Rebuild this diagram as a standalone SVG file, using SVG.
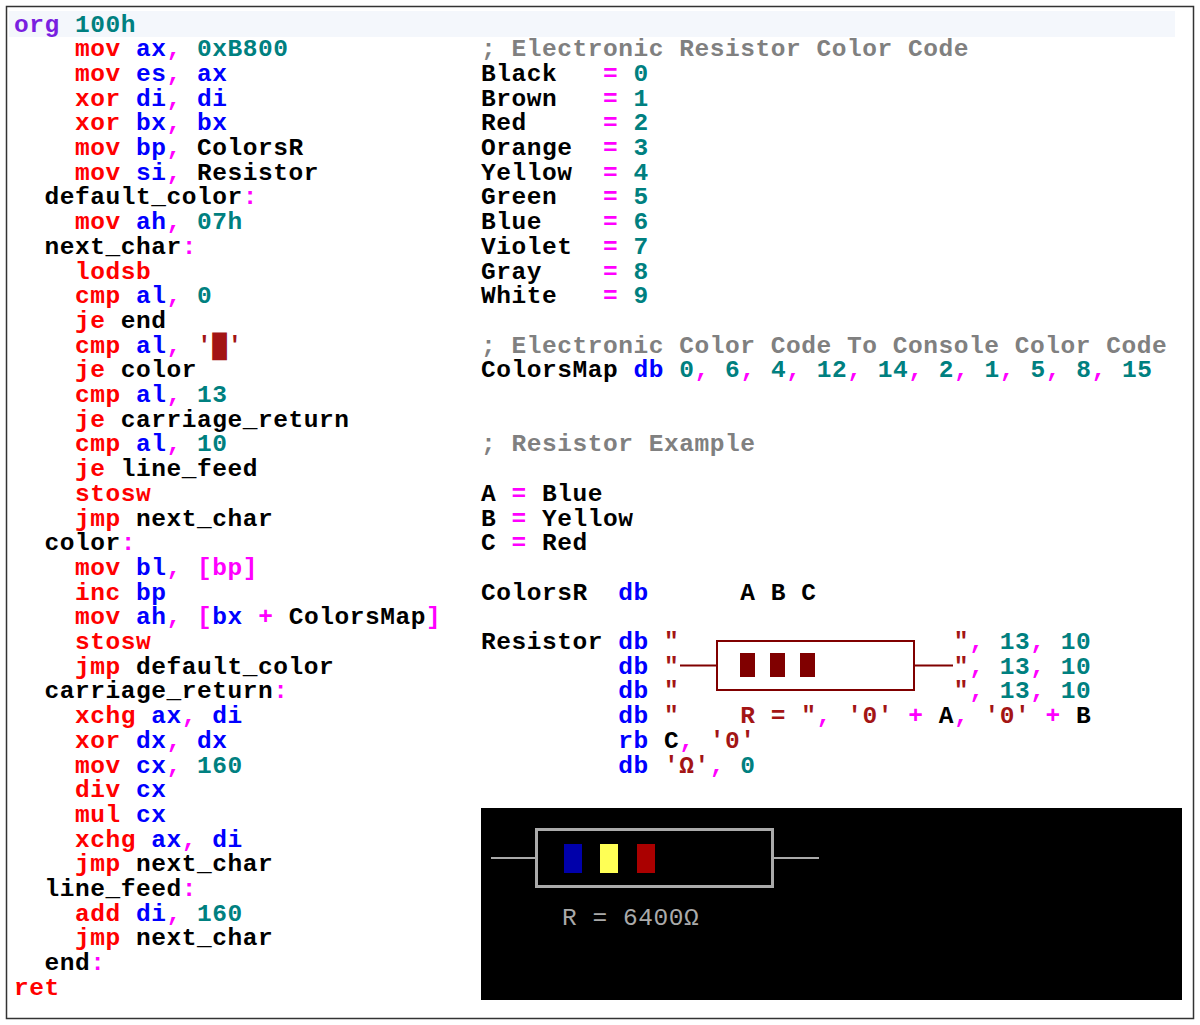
<svg xmlns="http://www.w3.org/2000/svg" width="1200" height="1025" viewBox="0 0 1200 1025">
<style>
text{font-family:"Liberation Mono","Courier New",monospace;font-size:24.5px;letter-spacing:0.55px;font-weight:bold;fill:#000;white-space:pre}
.k{fill:#ff0000}.r{fill:#0000ff}.n{fill:#008080}.p{fill:#ff00ff}.s{fill:#a31515}.c{fill:#808080}.o{fill:#7a1fe0}
.scr{font-weight:normal;fill:#aaaaaa}
</style>
<rect x="0" y="0" width="1200" height="1025" fill="#fff"/>
<rect x="6.5" y="6.5" width="1187" height="1012" fill="none" stroke="#333" stroke-width="1.5"/>
<rect x="9" y="11" width="1166" height="26" fill="#f4f7fc"/>
<g id="left" xml:space="preserve" transform="translate(0,-1.5)">
<text x="14" y="33"><tspan class="o">org</tspan> <tspan class="n">100h</tspan></text>
<text x="14" y="57.7">    <tspan class="k">mov</tspan> <tspan class="r">ax</tspan><tspan class="p">,</tspan> <tspan class="n">0xB800</tspan></text>
<text x="14" y="82.4">    <tspan class="k">mov</tspan> <tspan class="r">es</tspan><tspan class="p">,</tspan> <tspan class="r">ax</tspan></text>
<text x="14" y="107.1">    <tspan class="k">xor</tspan> <tspan class="r">di</tspan><tspan class="p">,</tspan> <tspan class="r">di</tspan></text>
<text x="14" y="131.8">    <tspan class="k">xor</tspan> <tspan class="r">bx</tspan><tspan class="p">,</tspan> <tspan class="r">bx</tspan></text>
<text x="14" y="156.5">    <tspan class="k">mov</tspan> <tspan class="r">bp</tspan><tspan class="p">,</tspan> ColorsR</text>
<text x="14" y="181.2">    <tspan class="k">mov</tspan> <tspan class="r">si</tspan><tspan class="p">,</tspan> Resistor</text>
<text x="14" y="205.9">  default_color<tspan class="p">:</tspan></text>
<text x="14" y="230.6">    <tspan class="k">mov</tspan> <tspan class="r">ah</tspan><tspan class="p">,</tspan> <tspan class="n">07h</tspan></text>
<text x="14" y="255.3">  next_char<tspan class="p">:</tspan></text>
<text x="14" y="280">    <tspan class="k">lodsb</tspan></text>
<text x="14" y="304.7">    <tspan class="k">cmp</tspan> <tspan class="r">al</tspan><tspan class="p">,</tspan> <tspan class="n">0</tspan></text>
<text x="14" y="329.4">    <tspan class="k">je</tspan> end</text>
<text x="14" y="354.1">    <tspan class="k">cmp</tspan> <tspan class="r">al</tspan><tspan class="p">,</tspan> <tspan class="s">'█'</tspan></text>
<text x="14" y="378.8">    <tspan class="k">je</tspan> color</text>
<text x="14" y="403.5">    <tspan class="k">cmp</tspan> <tspan class="r">al</tspan><tspan class="p">,</tspan> <tspan class="n">13</tspan></text>
<text x="14" y="428.2">    <tspan class="k">je</tspan> carriage_return</text>
<text x="14" y="452.9">    <tspan class="k">cmp</tspan> <tspan class="r">al</tspan><tspan class="p">,</tspan> <tspan class="n">10</tspan></text>
<text x="14" y="477.6">    <tspan class="k">je</tspan> line_feed</text>
<text x="14" y="502.3">    <tspan class="k">stosw</tspan></text>
<text x="14" y="527">    <tspan class="k">jmp</tspan> next_char</text>
<text x="14" y="551.7">  color<tspan class="p">:</tspan></text>
<text x="14" y="576.4">    <tspan class="k">mov</tspan> <tspan class="r">bl</tspan><tspan class="p">,</tspan> <tspan class="p">[bp]</tspan></text>
<text x="14" y="601.1">    <tspan class="k">inc</tspan> <tspan class="r">bp</tspan></text>
<text x="14" y="625.8">    <tspan class="k">mov</tspan> <tspan class="r">ah</tspan><tspan class="p">,</tspan> <tspan class="p">[</tspan><tspan class="r">bx</tspan> <tspan class="p">+</tspan> ColorsMap<tspan class="p">]</tspan></text>
<text x="14" y="650.5">    <tspan class="k">stosw</tspan></text>
<text x="14" y="675.2">    <tspan class="k">jmp</tspan> default_color</text>
<text x="14" y="699.9">  carriage_return<tspan class="p">:</tspan></text>
<text x="14" y="724.6">    <tspan class="k">xchg</tspan> <tspan class="r">ax</tspan><tspan class="p">,</tspan> <tspan class="r">di</tspan></text>
<text x="14" y="749.3">    <tspan class="k">xor</tspan> <tspan class="r">dx</tspan><tspan class="p">,</tspan> <tspan class="r">dx</tspan></text>
<text x="14" y="774">    <tspan class="k">mov</tspan> <tspan class="r">cx</tspan><tspan class="p">,</tspan> <tspan class="n">160</tspan></text>
<text x="14" y="798.7">    <tspan class="k">div</tspan> <tspan class="r">cx</tspan></text>
<text x="14" y="823.4">    <tspan class="k">mul</tspan> <tspan class="r">cx</tspan></text>
<text x="14" y="848.1">    <tspan class="k">xchg</tspan> <tspan class="r">ax</tspan><tspan class="p">,</tspan> <tspan class="r">di</tspan></text>
<text x="14" y="872.8">    <tspan class="k">jmp</tspan> next_char</text>
<text x="14" y="897.5">  line_feed<tspan class="p">:</tspan></text>
<text x="14" y="922.2">    <tspan class="k">add</tspan> <tspan class="r">di</tspan><tspan class="p">,</tspan> <tspan class="n">160</tspan></text>
<text x="14" y="946.9">    <tspan class="k">jmp</tspan> next_char</text>
<text x="14" y="971.6">  end<tspan class="p">:</tspan></text>
<text x="14" y="996.3"><tspan class="k">ret</tspan></text>
</g>
<g id="right" xml:space="preserve" transform="translate(0,-1.5)">
<text x="481" y="57.7" class="c">; Electronic Resistor Color Code</text>
<text x="481" y="82.4">Black   <tspan class="p">=</tspan> <tspan class="n">0</tspan></text>
<text x="481" y="107.1">Brown   <tspan class="p">=</tspan> <tspan class="n">1</tspan></text>
<text x="481" y="131.8">Red     <tspan class="p">=</tspan> <tspan class="n">2</tspan></text>
<text x="481" y="156.5">Orange  <tspan class="p">=</tspan> <tspan class="n">3</tspan></text>
<text x="481" y="181.2">Yellow  <tspan class="p">=</tspan> <tspan class="n">4</tspan></text>
<text x="481" y="205.9">Green   <tspan class="p">=</tspan> <tspan class="n">5</tspan></text>
<text x="481" y="230.6">Blue    <tspan class="p">=</tspan> <tspan class="n">6</tspan></text>
<text x="481" y="255.3">Violet  <tspan class="p">=</tspan> <tspan class="n">7</tspan></text>
<text x="481" y="280">Gray    <tspan class="p">=</tspan> <tspan class="n">8</tspan></text>
<text x="481" y="304.7">White   <tspan class="p">=</tspan> <tspan class="n">9</tspan></text>
<text x="481" y="354.1" class="c">; Electronic Color Code To Console Color Code</text>
<text x="481" y="378.8">ColorsMap <tspan class="r">db</tspan> <tspan class="n">0</tspan><tspan class="p">,</tspan> <tspan class="n">6</tspan><tspan class="p">,</tspan> <tspan class="n">4</tspan><tspan class="p">,</tspan> <tspan class="n">12</tspan><tspan class="p">,</tspan> <tspan class="n">14</tspan><tspan class="p">,</tspan> <tspan class="n">2</tspan><tspan class="p">,</tspan> <tspan class="n">1</tspan><tspan class="p">,</tspan> <tspan class="n">5</tspan><tspan class="p">,</tspan> <tspan class="n">8</tspan><tspan class="p">,</tspan> <tspan class="n">15</tspan></text>
<text x="481" y="452.9" class="c">; Resistor Example</text>
<text x="481" y="502.3">A <tspan class="p">=</tspan> Blue</text>
<text x="481" y="527">B <tspan class="p">=</tspan> Yellow</text>
<text x="481" y="551.7">C <tspan class="p">=</tspan> Red</text>
<text x="481" y="601.1">ColorsR  <tspan class="r">db</tspan>      A B C</text>
<text x="481" y="650.5">Resistor <tspan class="r">db</tspan> <tspan class="s">"                  "</tspan><tspan class="p">,</tspan> <tspan class="n">13</tspan><tspan class="p">,</tspan> <tspan class="n">10</tspan></text>
<text x="481" y="675.2">         <tspan class="r">db</tspan> <tspan class="s">"                  "</tspan><tspan class="p">,</tspan> <tspan class="n">13</tspan><tspan class="p">,</tspan> <tspan class="n">10</tspan></text>
<text x="481" y="699.9">         <tspan class="r">db</tspan> <tspan class="s">"                  "</tspan><tspan class="p">,</tspan> <tspan class="n">13</tspan><tspan class="p">,</tspan> <tspan class="n">10</tspan></text>
<text x="481" y="724.6">         <tspan class="r">db</tspan> <tspan class="s">"    R = "</tspan><tspan class="p">,</tspan> <tspan class="s">'0'</tspan> <tspan class="p">+</tspan> A<tspan class="p">,</tspan> <tspan class="s">'0'</tspan> <tspan class="p">+</tspan> B</text>
<text x="481" y="749.3">         <tspan class="r">rb</tspan> C<tspan class="p">,</tspan> <tspan class="s">'0'</tspan></text>
<text x="481" y="774">         <tspan class="r">db</tspan> <tspan class="s">'Ω'</tspan><tspan class="p">,</tspan> <tspan class="n">0</tspan></text>
</g>
<g id="code-resistor" fill="#800000" stroke="#800000">
<rect x="717" y="641" width="197" height="49" fill="none" stroke-width="2"/>
<line x1="680" y1="665.5" x2="717" y2="665.5" stroke-width="2"/>
<line x1="914" y1="665.5" x2="953" y2="665.5" stroke-width="2"/>
<rect x="740" y="653" width="15" height="24" stroke="none"/>
<rect x="770" y="653" width="15" height="24" stroke="none"/>
<rect x="800" y="653" width="15" height="24" stroke="none"/>
</g>
<g id="screen">
<rect x="481" y="808" width="701" height="192" fill="#000"/>
<rect x="536.5" y="829.5" width="236" height="57" fill="none" stroke="#aaa" stroke-width="3"/>
<line x1="491" y1="858" x2="535" y2="858" stroke="#aaa" stroke-width="2"/>
<line x1="774" y1="858" x2="819" y2="858" stroke="#aaa" stroke-width="2"/>
<rect x="564" y="844" width="18" height="29" fill="#0000aa"/>
<rect x="600" y="844" width="18" height="29" fill="#ffff55"/>
<rect x="637" y="844" width="18" height="29" fill="#aa0000"/>
<text x="562" y="925" class="scr" xml:space="preserve">R = 6400Ω</text>
</g>
</svg>
